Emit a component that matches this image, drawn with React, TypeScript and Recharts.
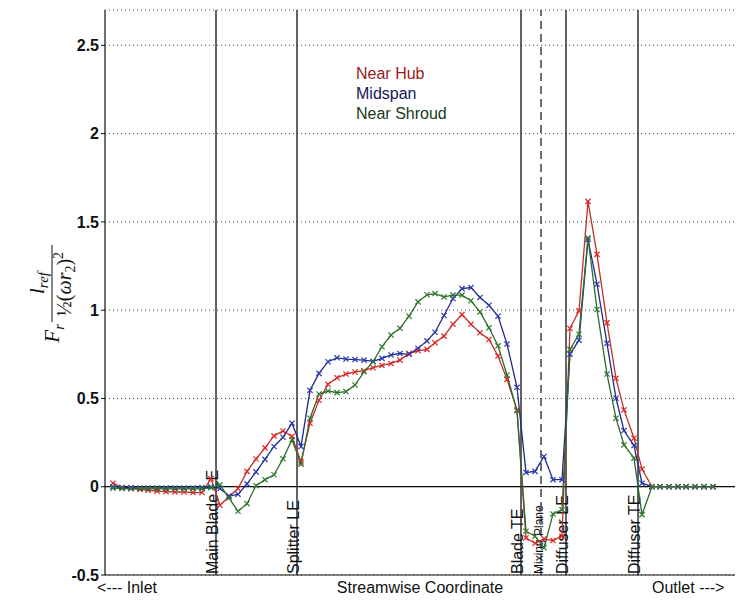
import { LineChart, Line, XAxis, YAxis, CartesianGrid, ReferenceLine, Legend } from 'recharts';

// streamwise position of each sample (arbitrary units along the machine)
const streamwise = [8, 17, 26, 35, 43, 52, 61, 70, 79, 88, 97, 106, 115, 124, 133, 142, 151, 160, 169, 178, 187, 196, 205, 214, 223, 232, 241, 250, 259, 268, 277, 286, 295, 304, 313, 322, 330, 339, 348, 357, 366, 375, 384, 393, 402, 412, 421, 430, 439, 448, 457, 465, 474, 483, 492, 502, 511, 519, 529, 537, 547, 555, 564, 573, 581, 590, 599, 608];

const nearHub = [0.02, -0.005, -0.01, -0.015, -0.02, -0.025, -0.028, -0.03, -0.03, -0.033, -0.033,
  0.045, -0.105, -0.055, -0.01, 0.087, 0.157, 0.22, 0.288, 0.316, 0.285,
  0.14, 0.36, 0.49, 0.58, 0.617, 0.638, 0.65, 0.657, 0.674, 0.687,
  0.698, 0.717, 0.755, 0.77, 0.778, 0.815, 0.853, 0.92, 0.975, 0.92,
  0.872, 0.834, 0.74, 0.608, 0.435, -0.29, -0.32, -0.295, -0.305, -0.28,
  0.896, 0.996, 1.616, 1.316, 0.928, 0.614, 0.435, 0.275, 0.1, 0,
  0, 0, 0, 0, 0, 0, 0];

const midspan = [0, -0.005, -0.005, -0.007, -0.007, -0.007, -0.007, -0.007, -0.007, -0.007, -0.005,
  0, -0.01, -0.052, -0.043, 0.016, 0.084, 0.155, 0.228, 0.28, 0.36,
  0.228, 0.546, 0.642, 0.708, 0.73, 0.723, 0.72, 0.717, 0.71, 0.727,
  0.746, 0.755, 0.75, 0.784, 0.826, 0.875, 0.97, 1.066, 1.122, 1.128,
  1.072, 1.028, 0.966, 0.808, 0.563, 0.081, 0.087, 0.171, 0.04, 0.04,
  0.751, 0.83, 1.4, 1.147, 0.812, 0.501, 0.318, 0.233, 0.02, 0,
  0, 0, 0, 0, 0, 0, 0];

const nearShroud = [-0.008, -0.01, -0.012, -0.012, -0.012, -0.012, -0.012, -0.012, -0.012, -0.012, -0.012,
  -0.005, 0.011, -0.064, -0.139, -0.096, 0.006, 0.04, 0.068, 0.158, 0.266,
  0.128, 0.388, 0.525, 0.542, 0.533, 0.539, 0.576, 0.651, 0.708, 0.793,
  0.859, 0.897, 0.966, 1.047, 1.087, 1.094, 1.075, 1.085, 1.085, 1.053,
  0.99, 0.9, 0.798, 0.633, 0.43, -0.252, -0.28, -0.346, -0.154, -0.13,
  0.778, 0.864, 1.41, 1.004, 0.638, 0.388, 0.237, 0.162, -0.158, 0,
  0, 0, 0, 0, 0, 0, 0];

const yTicks = [-0.5, 0, 0.5, 1, 1.5, 2, 2.5];

const stations = [
  { name: 'Main Blade LE', s: 111, dashed: false },
  { name: 'Splitter LE', s: 192, dashed: false },
  { name: 'Blade TE', s: 416, dashed: false },
  { name: 'Mixing Plane', s: 436, dashed: true },
  { name: 'Diffuser LE', s: 461, dashed: false },
  { name: 'Diffuser TE', s: 533, dashed: false },
];

const series = [
  { key: 'hub', name: 'Near Hub', line: '#c0302a', mark: '#e02424', text: '#9a2020' },
  { key: 'mid', name: 'Midspan', line: '#1f2a8a', mark: '#2a3ab0', text: '#16165a' },
  { key: 'shroud', name: 'Near Shroud', line: '#2d6a2d', mark: '#2f7a2f', text: '#1a3a1a' },
];

const data = streamwise.map((s, i) => ({ s, hub: nearHub[i], mid: midspan[i], shroud: nearShroud[i] }));

const SANS = "'Liberation Sans', Arial, sans-serif";
const SERIF = "'Liberation Serif', 'Times New Roman', serif";

function XMark(props: any) {
  const { cx, cy, stroke } = props;
  if (cx == null || cy == null) return null;
  const r = 2.6;
  return <path d={`M${cx - r},${cy - r}L${cx + r},${cy + r}M${cx - r},${cy + r}L${cx + r},${cy - r}`} stroke={stroke} strokeWidth={1.2} fill="none" />;
}

function StationLabel(props: any) {
  const { viewBox, value, small } = props;
  if (!viewBox) return null;
  const x = viewBox.x + 2;
  const y = viewBox.y + viewBox.height - 1;
  return (
    <text transform={`translate(${x},${y}) rotate(-90)`} fontFamily={SANS} fontSize={small ? 12 : 16} fill="#111">{value}</text>
  );
}

function XLabels(props: any) {
  const { viewBox } = props;
  if (!viewBox) return null;
  const { x, y, width } = viewBox;
  const base = y + 18;
  return (
    <g fontFamily={SANS} fontSize={16} fill="#111">
      <text x={x - 8} y={base}>{'<--- Inlet'}</text>
      <text x={x + width / 2} y={base} textAnchor="middle">Streamwise Coordinate</text>
      <text x={x + 547} y={base}>{'Outlet --->'}</text>
    </g>
  );
}

function YLabel(props: any) {
  const { viewBox } = props;
  if (!viewBox) return null;
  const cx = viewBox.x + 7;
  const cy = 295;
  return (
    <g transform={`translate(${cx},${cy}) rotate(-90)`} fontFamily={SERIF} fill="#111">
      <text x={-29} y={7} fontSize={21} fontStyle="italic" textAnchor="end">
        F<tspan fontSize={15} dy={5}>r</tspan>
      </text>
      <text x={12} y={-8} fontSize={21} fontStyle="italic" textAnchor="middle">
        l<tspan fontSize={15} dy={4}>ref</tspan>
      </text>
      <line x1={-27} x2={50} y1={0} y2={0} stroke="#111" strokeWidth={1} />
      <text x={11} y={19} fontSize={20} textAnchor="middle">
        ½(<tspan fontStyle="italic">ωr</tspan><tspan fontSize={14} dy={4}>2</tspan><tspan dy={-4}>)</tspan><tspan fontSize={14} dy={-8}>2</tspan>
      </text>
    </g>
  );
}

function LegendText() {
  return (
    <div style={{ fontFamily: SANS, fontSize: 16, lineHeight: '20px' }}>
      {series.map((s) => (
        <div key={s.key} style={{ color: s.text }}>{s.name}</div>
      ))}
    </div>
  );
}

export default function App() {
  return (
    <div style={{ position: 'absolute', left: 0, top: 0, width: 737, height: 601, background: '#fff' }}>
      <LineChart width={737} height={601} data={data} margin={{ top: 10, right: 2, bottom: 0, left: 45 }}>
        <CartesianGrid horizontal vertical={false} stroke="#444" strokeDasharray="1 3" />
        <XAxis dataKey="s" type="number" domain={[0, 630]} allowDataOverflow height={26} tick={false} tickLine={false}
          axisLine={{ stroke: '#111', strokeWidth: 1.2 }} label={<XLabels />} />
        <YAxis type="number" domain={[-0.5, 2.7]} allowDataOverflow ticks={yTicks} width={60} tickSize={4}
          tick={{ fill: '#111', fontSize: 16, fontFamily: SANS, fontWeight: 'bold' }} tickLine={{ stroke: '#111' }}
          axisLine={{ stroke: '#111', strokeWidth: 1.2 }} tickFormatter={(v: number) => String(v)} label={<YLabel />} />
        <ReferenceLine y={0} stroke="#111" strokeWidth={1.3} />
        {stations.map((st) => (
          <ReferenceLine key={st.name} x={st.s} stroke="#222" strokeWidth={st.dashed ? 1.3 : 1.4}
            strokeDasharray={st.dashed ? '8 5' : undefined}
            label={<StationLabel value={st.name} small={st.dashed} />} />
        ))}
        {series.map((s) => (
          <Line key={s.key} type="linear" dataKey={s.key} name={s.name} stroke={s.line} strokeWidth={1.3}
            dot={<XMark stroke={s.mark} />} activeDot={false} isAnimationActive={false} />
        ))}
        <Legend layout="vertical" align="center" verticalAlign="middle" content={<LegendText />}
          wrapperStyle={{ position: 'absolute', left: 356, top: 64, width: 'auto' }} />
      </LineChart>
    </div>
  );
}
